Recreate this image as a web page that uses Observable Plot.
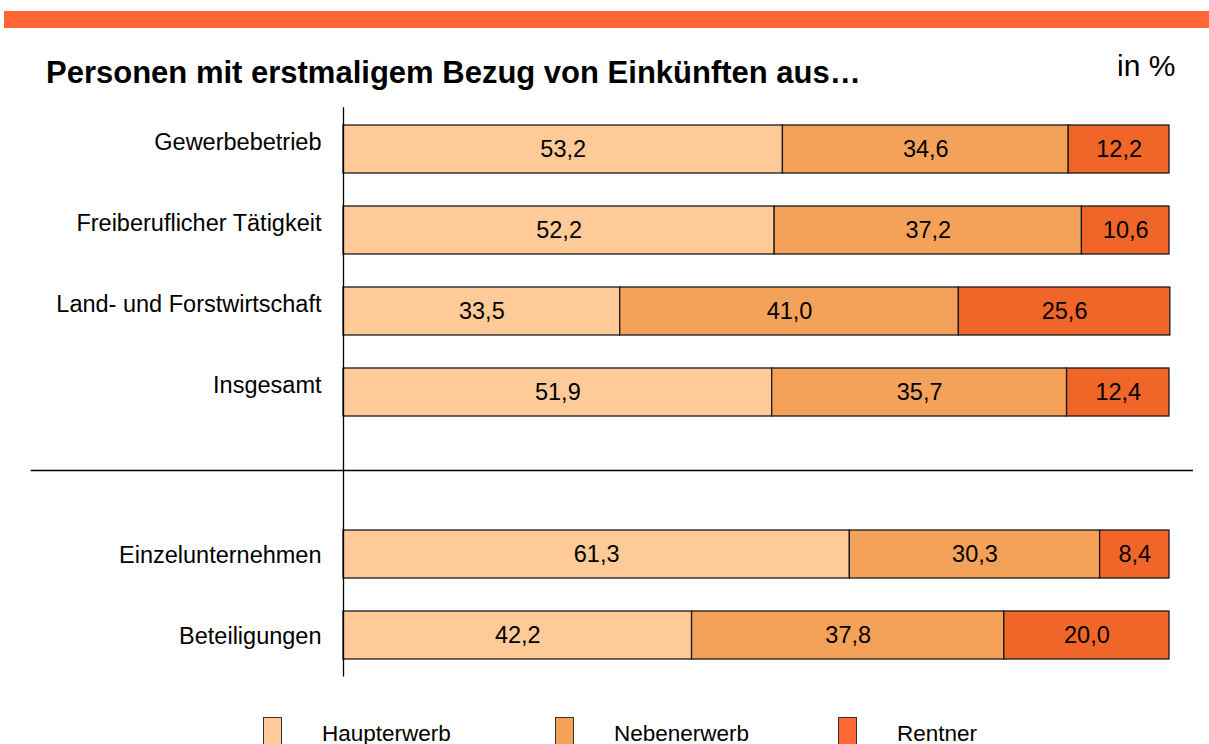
<!DOCTYPE html>
<html>
<head>
<meta charset="utf-8">
<script src="https://cdn.jsdelivr.net/npm/d3@7"></script>
<script src="https://cdn.jsdelivr.net/npm/@observablehq/plot@0.6"></script>
<style>
  html, body { margin: 0; padding: 0; background: #fff; width: 1209px; height: 744px; overflow: hidden; font-family: "Liberation Sans", Arial, sans-serif; }
  #band { position: absolute; left: 4px; top: 11px; width: 1205px; height: 17px; background: #FF6633; }
  #title { position: absolute; left: 46px; top: 55px; font-size: 31px; font-weight: bold; color: #000; white-space: nowrap; }
  #unit { position: absolute; left: 1117px; top: 49px; font-size: 30px; color: #000; }
  #chart { position: absolute; left: 0; top: 100px; }
  #legend { position: absolute; left: 0; top: 716px; width: 1209px; height: 40px; }
  .item { position: absolute; top: 0; font-size: 22.5px; color: #000; }
  .sw { position: absolute; top: 1px; width: 17px; height: 26px; border: 1px solid #333; }
  .lab { position: absolute; top: 5px; white-space: nowrap; }
</style>
</head>
<body>
<div id="band"></div>
<div id="title">Personen mit erstmaligem Bezug von Einkünften aus…</div>
<div id="unit">in %</div>
<div id="chart"></div>
<div id="legend"></div>
<script>
// Categories (blank slot = separator gap)
const categories = ["Gewerbebetrieb", "Freiberuflicher Tätigkeit", "Land- und Forstwirtschaft", "Insgesamt", "", "Einzelunternehmen", "Beteiligungen"];
const groupTop = ["Gewerbebetrieb", "Freiberuflicher Tätigkeit", "Land- und Forstwirtschaft", "Insgesamt"];
const groupBottom = ["Einzelunternehmen", "Beteiligungen"];
const series = ["Haupterwerb", "Nebenerwerb", "Rentner"];
const haupterwerb = [53.2, 52.2, 33.5, 51.9, null, 61.3, 42.2];
const nebenerwerb = [34.6, 37.2, 41.0, 35.7, null, 30.3, 37.8];
const rentner     = [12.2, 10.6, 25.6, 12.4, null, 8.4, 20.0];
const barColors = ["#FECB98", "#F4A25A", "#EF6628"];
const legendColors = ["#FFCC99", "#F5A25A", "#FF6633"];

const values = [haupterwerb, nebenerwerb, rentner];
const data = [];
series.forEach((s, si) => {
  categories.forEach((c, ci) => {
    const v = values[si][ci];
    if (v != null) data.push({cat: c, type: s, value: v});
  });
});
const fmt = v => v.toFixed(1).replace(".", ",");

const chart = Plot.plot({
  width: 1209,
  height: 600,
  marginLeft: 343,
  marginRight: 40,
  marginTop: 7.35,
  marginBottom: 23.5,
  x: {domain: [0, 100], axis: null},
  y: {domain: categories, paddingInner: 0.41, paddingOuter: 0.205, axis: null},
  color: {domain: series, range: barColors},
  style: {fontFamily: "'Liberation Sans', Arial, sans-serif", background: "white"},
  marks: [
    Plot.barX(data, Plot.stackX({x: "value", y: "cat", fill: "type", stroke: "#1a1a1a", strokeWidth: 1.3})),
    Plot.textX(data, Plot.stackX({x: "value", y: "cat", z: "type", text: d => fmt(d.value), fill: "#000", fontSize: 23.5})),
    Plot.ruleX([0], {stroke: "#000", strokeWidth: 1.3}),
    Plot.ruleY([""], {y: d => d, x1: -37.8, x2: 102.9, stroke: "#000", strokeWidth: 1.3, dy: -3, clip: false}),
    Plot.axisY({ticks: groupTop, tickSize: 0, tickPadding: 22, fontSize: 23.5, dy: -7, label: null, fill: "#000"}),
    Plot.axisY({ticks: groupBottom, tickSize: 0, tickPadding: 22, fontSize: 23.5, dy: 1, label: null, fill: "#000"})
  ]
});
document.getElementById("chart").appendChild(chart);

// Legend
const legend = document.getElementById("legend");
const swX = [263, 555, 838];
series.forEach((s, i) => {
  const sw = document.createElement("div");
  sw.className = "sw";
  sw.style.left = swX[i] + "px";
  sw.style.background = legendColors[i];
  legend.appendChild(sw);
  const lab = document.createElement("div");
  lab.className = "item lab";
  lab.style.left = (swX[i] + 59) + "px";
  lab.textContent = s;
  legend.appendChild(lab);
});
</script>
</body>
</html>
